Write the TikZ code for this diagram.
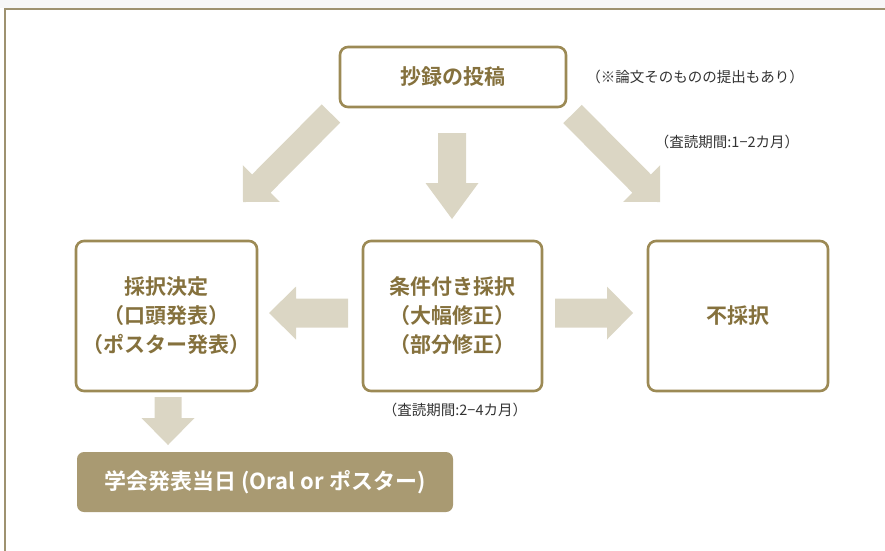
\documentclass[tikz,border=0pt]{standalone}
\usepackage{fontspec}
\usetikzlibrary{calc}
\setmainfont{Noto Sans CJK JP}
\newfontfamily\jp{Noto Sans CJK JP}
\newfontfamily\jpb{Noto Sans CJK JP Bold}
\definecolor{framec}{HTML}{9E9270}
\definecolor{boxline}{HTML}{9C8A55}
\definecolor{boxtext}{HTML}{85713D}
\definecolor{fillbox}{HTML}{A99A72}
\definecolor{arrowc}{HTML}{DBD6C4}
\definecolor{notec}{HTML}{333333}
\tikzset{
  stagebox/.style={draw=boxline, line width=2.6pt, rounded corners=8pt, fill=white,
    align=center, text=boxtext, font=\jpb\fontsize{21}{29}\selectfont, inner sep=0pt},
  finalbox/.style={fill=fillbox, rounded corners=7pt, text=white,
    font=\jpb\fontsize{22}{26}\selectfont, inner sep=0pt},
  note/.style={text=notec, font=\jp\fontsize{14.5}{17}\selectfont, inner sep=0pt},
}
% fat arrow: #1 start, #2 tip, #3 shaft half width, #4 head half width, #5 head length
\newcommand\fatarrow[5]{%
  \coordinate (fa-c) at ($(#2)!#5!(#1)$);
  \fill[arrowc] ($(#1)!#3!90:(#2)$) -- ($(fa-c)!#3!90:(#2)$) -- ($(fa-c)!#4!90:(#2)$)
    -- (#2) -- ($(fa-c)!#4!-90:(#2)$) -- ($(fa-c)!#3!-90:(#2)$) -- ($(#1)!#3!-90:(#2)$) -- cycle;
}
\begin{document}
\begin{tikzpicture}[x=1pt,y=-1pt]
\useasboundingbox (0,0) rectangle (885,550);
\fill[black!3] (0,0) rectangle (885,8);
\draw[framec, line width=1.6pt] (5,551) -- (5,9) -- (886,9);

\node[stagebox, minimum width=226pt, minimum height=60pt] (submit) at (453,77) {抄録の投稿};
\node[stagebox, minimum width=181pt, minimum height=150pt] (accept) at (166.5,316) {採択決定\\（口頭発表）\\（ポスター発表）};
\node[stagebox, minimum width=179pt, minimum height=150pt] (cond) at (452.5,316) {条件付き採択\\（大幅修正）\\（部分修正）};
\node[stagebox, minimum width=180pt, minimum height=150pt] (reject) at (738,316) {不採択};
\node[finalbox, minimum width=376pt, minimum height=60pt] (present) at (265,482) {学会発表当日 (Oral or ポスター)};

\node[note] (n1) at (695,77) {（※論文そのものの提出もあり）};
\node[note] (n2) at (727,142) {（査読期間:1−2カ月）};
\node[note] (n3) at (455,410) {（査読期間:2−4カ月）};

\coordinate (a1s) at (331,113.5); \coordinate (a1t) at (243,202);
\coordinate (a2s) at (452,133);   \coordinate (a2t) at (452,219);
\coordinate (a3s) at (572.5,114); \coordinate (a3t) at (660,202);
\coordinate (a4s) at (348,313);   \coordinate (a4t) at (269,313);
\coordinate (a5s) at (555,313);   \coordinate (a5t) at (633,313);
\coordinate (a6s) at (168,397);   \coordinate (a6t) at (168,445);

\fatarrow{a1s}{a1t}{13pt}{26pt}{26pt}
\fatarrow{a2s}{a2t}{14pt}{26.5pt}{36pt}
\fatarrow{a3s}{a3t}{13pt}{26pt}{26pt}
\fatarrow{a4s}{a4t}{14.5pt}{26.5pt}{27pt}
\fatarrow{a5s}{a5t}{14.5pt}{26.5pt}{26pt}
\fatarrow{a6s}{a6t}{13.5pt}{26.5pt}{27pt}
\end{tikzpicture}
\end{document}
